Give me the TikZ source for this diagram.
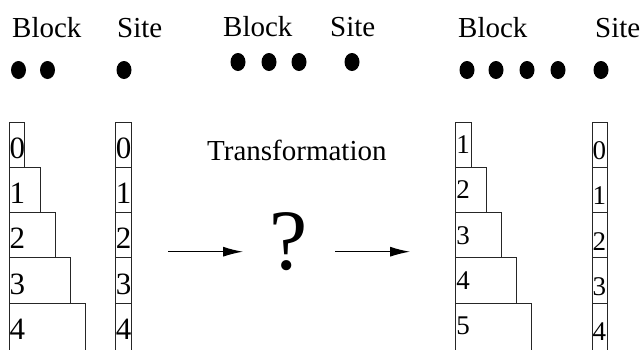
\documentclass[tikz,border=0pt]{standalone}
\usepackage{fontspec}
\setmainfont{Liberation Serif}
\usetikzlibrary{arrows.meta,shapes.geometric}
\begin{document}
\begin{tikzpicture}[x=1pt,y=-1pt,
 box/.style={draw=black!85, line width=0.9pt, inner sep=0pt, outer sep=0pt, anchor=north west, minimum height=45.3pt},
 dig/.style={inner sep=0pt, anchor=west, font=\fontsize{31}{31}\selectfont},
 digr/.style={dig, font=\fontsize{27}{27}\selectfont},
 lbl/.style={inner sep=0pt, anchor=base west, font=\fontsize{29}{29}\selectfont},
 blob/.style={ellipse, fill=black, inner sep=0pt, minimum width=15pt, minimum height=18pt},
 arr/.style={-{Latex[length=20pt,width=10pt]}, line width=1.1pt}]
\useasboundingbox (0,0) rectangle (640,349);
\clip (0,0) rectangle (640,349);
% top labels
\node[lbl] (tb1) at (12,37) {Block};
\node[lbl] (ts1) at (117,37) {Site};
\node[lbl] (tb2) at (223,36) {Block};
\node[lbl] (ts2) at (330,36) {Site};
\node[lbl] (tb3) at (458,37) {Block};
\node[lbl] (ts3) at (595,37) {Site};
% dots
\node[blob] (d1) at (18.5,70) {};
\node[blob] (d2) at (47.5,70) {};
\node[blob] (d3) at (124,70) {};
\node[blob] (d4) at (238,62) {};
\node[blob] (d5) at (269,62) {};
\node[blob] (d6) at (299,62) {};
\node[blob] (d7) at (352,62) {};
\node[blob] (d8) at (467,70) {};
\node[blob] (d9) at (496,70) {};
\node[blob] (d10) at (527,70) {};
\node[blob] (d11) at (558,70) {};
\node[blob] (d12) at (601,70) {};
% left block
\foreach \i/\w/\h in {0/14.5/45.3,1/30.5/45.3,2/45.5/45.3,3/60.5/45.3,4/75.5/70} {
  \node[box, minimum width=\w pt, minimum height=\h pt] (lb\i) at (9.5,{122+45.3*\i}) {};
  \node[dig] (ld\i) at ([yshift=-3.5pt]lb\i.north west |- 0,{144.6+45.3*\i}) {\i};
}
% left site
\foreach \i/\h in {0/45.3,1/45.3,2/45.3,3/45.3,4/70} {
  \node[box, minimum width=15.3pt, minimum height=\h pt] (ls\i) at (115.7,{122+45.3*\i}) {};
  \node[dig] (lsd\i) at ([yshift=-3.5pt]ls\i.north west |- 0,{144.6+45.3*\i}) {\i};
}
% right block
\foreach \i/\w/\h/\n in {0/15.3/45.3/1,1/30.6/45.3/2,2/45.6/45.3/3,3/60.6/45.3/4,4/75.6/70/5} {
  \node[box, minimum width=\w pt, minimum height=\h pt] (rb\i) at (455.7,{122+45.3*\i}) {};
  \node[digr] (rd\i) at ([xshift=0.5pt]rb\i.north west |- 0,{144.6+45.3*\i}) {\n};
}
% right site
\foreach \i/\h in {0/45.3,1/45.3,2/45.3,3/45.3,4/70} {
  \node[box, minimum width=14.7pt, minimum height=\h pt] (rs\i) at (592.3,{122+45.3*\i}) {};
  \node[digr] (rsd\i) at ([yshift=-6pt]rs\i.north west |- 0,{144.6+45.3*\i}) {\i};
}
% middle
\node[lbl] (tr) at (207,160) {Transformation};
\node[inner sep=0pt, font=\fontsize{86}{86}\selectfont] (q) at (289,242) {?};
\coordinate (a1s) at (168,251.7);
\coordinate (a1e) at (243,251.7);
\coordinate (a2s) at (335,251.7);
\coordinate (a2e) at (410,251.7);
\draw[arr] (a1s) -- (a1e);
\draw[arr] (a2s) -- (a2e);
\end{tikzpicture}
\end{document}
